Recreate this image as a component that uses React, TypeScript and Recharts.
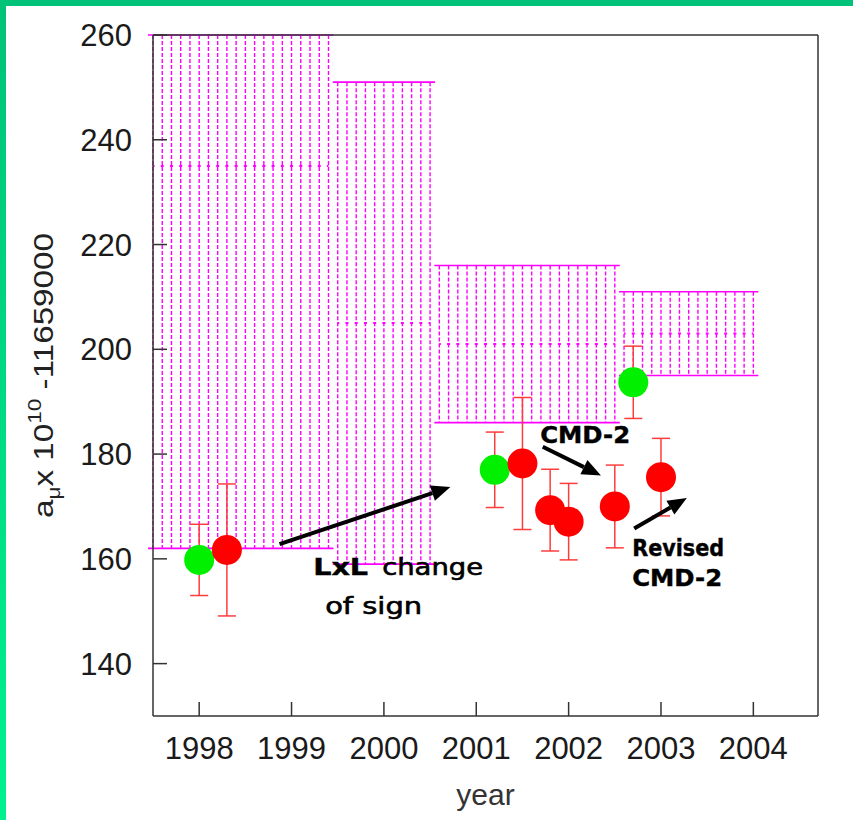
import React from "react";
import {
  ComposedChart,
  Scatter,
  ErrorBar,
  XAxis,
  YAxis,
  ReferenceArea,
  ReferenceLine,
  ReferenceDot,
  Label,
} from "recharts";

const X_TICKS = [1998, 1999, 2000, 2001, 2002, 2003, 2004];
const Y_TICKS = [140, 160, 180, 200, 220, 240, 260];
const X_DOMAIN = [1997.5, 2004.7];
const Y_DOMAIN = [130, 260];

// theory prediction bands (year range, low / central / high)
const bandFrom = [1997.5, 1999.5, 2000.6, 2002.6];
const bandTo = [1999.4, 2000.5, 2002.5, 2004.0];
const bandLow = [162, 159, 186, 195];
const bandMid = [235, 205, 201, 203];
const bandHigh = [308, 251, 216, 211];

// green measurements
const greenYear = [1998.0, 2001.2, 2002.7];
const greenValue = [159.8, 177.0, 193.7];
const greenErr = [6.8, 7.2, 6.9];

// red measurements
const redYear = [1998.3, 2001.5, 2001.8, 2002.0, 2002.5, 2003.0];
const redValue = [161.7, 178.2, 169.3, 167.1, 170.0, 175.6];
const redErr = [12.6, 12.6, 7.8, 7.3, 7.9, 7.4];

// annotation arrows: [year, value]
const arrowFrom = [
  [1998.87, 162.8],
  [2001.72, 181.4],
  [2002.71, 165.8],
];
const arrowTo = [
  [2000.72, 173.7],
  [2002.35, 175.9],
  [2003.28, 171.6],
];

// annotation texts
const noteText = ["LxL", "change", "of sign", "CMD-2", "Revised", "CMD-2"];
const noteYear = [1999.234, 1999.981, 1999.364, 2001.692, 2002.688, 2002.688];
const noteValue = [156.9, 156.9, 149.5, 182.1, 160.5, 154.8];
const noteBold = [true, false, false, true, true, true];
const noteLength = [55, 101, 97, 90, 92, 90];

const MAGENTA = "#ff00ff";
const AXIS = "#333333";
const FONT = "'Liberation Sans', Arial, sans-serif";
const NOTE_FONT = "'DejaVu Sans', sans-serif";

const greenData = greenYear.map((x, i) => ({ x, y: greenValue[i], err: greenErr[i] }));
const redData = redYear.map((x, i) => ({ x, y: redValue[i], err: redErr[i] }));

const HatchBox = (props: any) => {
  const { x, y, width, height } = props;
  const n = Math.max(1, Math.round(width / 9.236));
  const step = width / n;
  const lines = [];
  for (let i = 0; i <= n; i++) {
    const lx = x + i * step;
    lines.push(
      <line
        key={i}
        x1={lx}
        x2={lx}
        y1={y}
        y2={y + height}
        stroke={MAGENTA}
        strokeWidth={1.4}
        strokeDasharray="4 2"
      />
    );
  }
  return (
    <g>
      {lines}
      <line x1={x - 5} x2={x + width + 5} y1={y} y2={y} stroke={MAGENTA} strokeWidth={1.6} />
      <line
        x1={x - 5}
        x2={x + width + 5}
        y1={y + height}
        y2={y + height}
        stroke={MAGENTA}
        strokeWidth={1.6}
      />
    </g>
  );
};

const Arrow = (props: any) => {
  const { x1, y1, x2, y2 } = props;
  const a = Math.atan2(y2 - y1, x2 - x1);
  const len = 19;
  const half = 8;
  const bx = x2 - len * Math.cos(a);
  const by = y2 - len * Math.sin(a);
  const px = -Math.sin(a) * half;
  const py = Math.cos(a) * half;
  return (
    <g>
      <line x1={x1} y1={y1} x2={bx} y2={by} stroke="#000" strokeWidth={4} />
      <polygon
        points={`${x2},${y2} ${bx + px},${by + py} ${bx - px},${by - py}`}
        fill="#000"
      />
    </g>
  );
};

const Dot = (color: string) => (p: any) =>
  <circle cx={p.cx} cy={p.cy} r={15} fill={color} />;

const renderYLabel = () => (
  <text
    transform="translate(53,375.5) rotate(-90)"
    textAnchor="middle"
    fontFamily={FONT}
    fontSize={28}
    fill="#222"
    textLength={285}
    lengthAdjust="spacingAndGlyphs"
  >
    <tspan>a</tspan>
    <tspan fontSize={19} dy={7}>μ</tspan>
    <tspan dy={-7}>x 10</tspan>
    <tspan fontSize={19} dy={-12}>10</tspan>
    <tspan dy={12}> -11659000</tspan>
  </text>
);

export default function App() {
  return (
    <div
      style={{
        position: "absolute",
        left: 0,
        top: 0,
        width: 853,
        height: 820,
        background: "#fff",
        overflow: "hidden",
      }}
    >
      <div
        style={{
          position: "absolute",
          left: 0,
          top: 0,
          width: 6,
          height: 820,
          background: "linear-gradient(#00c278, #00f28e)",
        }}
      />
      <div
        style={{
          position: "absolute",
          left: 0,
          top: 0,
          width: 853,
          height: 6,
          background: "#00c278",
        }}
      />
      <ComposedChart
        width={853}
        height={820}
        margin={{ top: 34, right: 34, bottom: 0, left: 0 }}
      >
        <XAxis
          type="number"
          dataKey="x"
          domain={X_DOMAIN}
          ticks={X_TICKS}
          interval={0}
          allowDataOverflow
          height={104}
          tickSize={-14}
          tickMargin={35}
          axisLine={{ stroke: AXIS, strokeWidth: 1.5 }}
          tickLine={{ stroke: AXIS, strokeWidth: 1.5 }}
          tick={{ fontSize: 31, fill: "#1a1a1a", fontFamily: FONT }}
        >
          <Label
            value="year"
            position="insideBottom"
            offset={15}
            style={{ fontSize: 30, fill: "#333", fontFamily: FONT }}
          />
        </XAxis>
        <XAxis
          xAxisId="top"
          orientation="top"
          type="number"
          domain={X_DOMAIN}
          ticks={X_TICKS}
          interval={0}
          allowDataOverflow
          height={1}
          tickSize={-14}
          tick={false}
          axisLine={{ stroke: AXIS, strokeWidth: 1.5 }}
          tickLine={{ stroke: AXIS, strokeWidth: 1.5 }}
        />
        <YAxis
          type="number"
          domain={Y_DOMAIN}
          ticks={Y_TICKS}
          interval={0}
          allowDataOverflow
          width={153}
          tickSize={-14}
          tickMargin={35}
          axisLine={{ stroke: AXIS, strokeWidth: 1.5 }}
          tickLine={{ stroke: AXIS, strokeWidth: 1.5 }}
          tick={{ fontSize: 31, fill: "#1a1a1a", fontFamily: FONT }}
        >
          <Label content={renderYLabel} />
        </YAxis>
        <YAxis
          yAxisId="right"
          orientation="right"
          type="number"
          domain={Y_DOMAIN}
          ticks={Y_TICKS}
          interval={0}
          allowDataOverflow
          width={1}
          tickSize={-14}
          tick={false}
          axisLine={{ stroke: AXIS, strokeWidth: 1.5 }}
          tickLine={{ stroke: AXIS, strokeWidth: 1.5 }}
        />

        {bandFrom.map((from, i) => (
          <ReferenceArea
            key={`band-${i}`}
            x1={from}
            x2={bandTo[i]}
            y1={bandLow[i]}
            y2={Math.min(bandHigh[i], Y_DOMAIN[1])}
            ifOverflow="visible"
            shape={HatchBox}
          />
        ))}
        {bandFrom.map((from, i) => (
          <ReferenceLine
            key={`mid-${i}`}
            segment={[
              { x: from, y: bandMid[i] },
              { x: bandTo[i], y: bandMid[i] },
            ]}
            ifOverflow="visible"
            stroke={MAGENTA}
            strokeWidth={2}
            strokeDasharray="3 6.236"
            strokeDashoffset={1.5}
          />
        ))}

        <Scatter
          data={greenData}
          dataKey="y"
          isAnimationActive={false}
          shape={Dot("#00f000")}
        >
          <ErrorBar dataKey="err" direction="y" width={9} stroke="#ff3c3c" strokeWidth={1.5} />
        </Scatter>
        <Scatter
          data={redData}
          dataKey="y"
          isAnimationActive={false}
          shape={Dot("#ff0000")}
        >
          <ErrorBar dataKey="err" direction="y" width={9} stroke="#ff3c3c" strokeWidth={1.5} />
        </Scatter>

        {arrowFrom.map((f, i) => (
          <ReferenceLine
            key={`arrow-${i}`}
            segment={[
              { x: f[0], y: f[1] },
              { x: arrowTo[i][0], y: arrowTo[i][1] },
            ]}
            ifOverflow="visible"
            shape={Arrow}
          />
        ))}
        {noteText.map((t, i) => (
          <ReferenceDot
            key={`note-${i}`}
            x={noteYear[i]}
            y={noteValue[i]}
            r={0}
            ifOverflow="visible"
            shape={(p: any) => (
              <text
                x={p.cx}
                y={p.cy}
                fontFamily={NOTE_FONT}
                fontSize={23}
                fontWeight={noteBold[i] ? "bold" : "normal"}
                fill="#000"
                stroke="#000"
                strokeWidth={noteBold[i] ? 0.4 : 0.6}
                textLength={noteLength[i]}
                lengthAdjust="spacingAndGlyphs"
              >
                {t}
              </text>
            )}
          />
        ))}
      </ComposedChart>
    </div>
  );
}
